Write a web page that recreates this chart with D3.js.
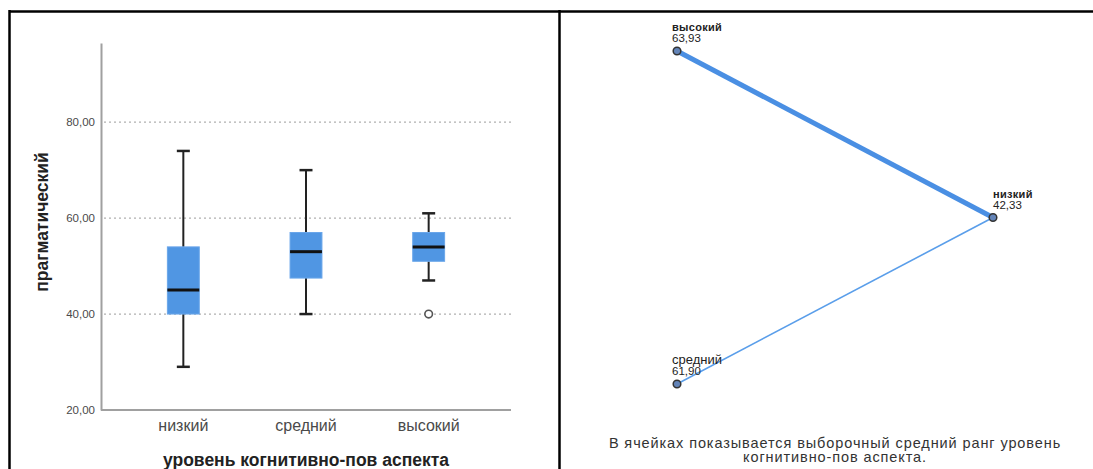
<!DOCTYPE html>
<html><head><meta charset="utf-8">
<script src="https://cdn.jsdelivr.net/npm/d3@7"></script>
<style>body{margin:0;background:#fff}svg{display:block}text{font-family:"Liberation Sans",Arial,sans-serif}</style>
</head><body>
<svg id="c" width="1093" height="469"></svg>
<script>
// Left panel: box plot data
const categories = ["низкий", "средний", "высокий"];
const whiskerLow = [29, 40, 47];
const q1 = [40, 47.5, 51];
const median = [45, 53, 54];
const q3 = [54, 57, 57];
const whiskerHigh = [74, 70, 61];
const outliers = [[], [], [40]];
const yTicks = [20, 40, 60, 80];
const yTitle = "прагматический";
const xTitle = "уровень когнитивно-пов аспекта";

// Right panel: mean ranks, node layout (unit positions)
const nodeNames = ["высокий", "низкий", "средний"];
const meanRanks = ["63,93", "42,33", "61,90"];
const nodeLayoutX = [0, 1, 0];
const nodeLayoutY = [0, 0.5, 1];
const edges = [[0, 1, "thick"], [2, 1, "thin"]];
const footnote = ["В ячейках показывается выборочный средний ранг уровень", "когнитивно-пов аспекта."];

const svg = d3.select("#c");
const blue = "#5096e3";

// Frame
svg.append("line").attr("x1", 9).attr("x2", 1093).attr("y1", 11.5).attr("y2", 11.5).attr("stroke", "#000").attr("stroke-width", 2.5);
svg.append("line").attr("x1", 9.5).attr("x2", 9.5).attr("y1", 10).attr("y2", 469).attr("stroke", "#000").attr("stroke-width", 2.5);
svg.append("line").attr("x1", 559.5).attr("x2", 559.5).attr("y1", 10).attr("y2", 469).attr("stroke", "#000").attr("stroke-width", 2.5);

// ---- Left: box plot
const y = d3.scaleLinear().domain([20, 96.5]).range([410, 43]);
const x = d3.scaleBand().domain(categories).range([122, 490]).paddingInner(0.74).paddingOuter(0.37);
const L = svg.append("g");

// gridlines
L.append("g").selectAll("line").data(yTicks.filter(t => t > 20)).join("line")
  .attr("x1", 104).attr("x2", 511).attr("y1", d => y(d)).attr("y2", d => y(d))
  .attr("stroke", "#b0b0b0").attr("stroke-width", 1.3).attr("stroke-dasharray", "2,3");

const yAxis = d3.axisLeft(y).tickValues(yTicks).tickSize(0).tickPadding(6)
  .tickFormat(d => d3.format(".2f")(d).replace(".", ","));
const ga = L.append("g").attr("transform", "translate(101,0)").call(yAxis);
ga.select(".domain").attr("stroke", "#a0a0a0").attr("stroke-width", 2);
ga.selectAll("text").attr("font-size", 11.5).attr("fill", "#4a4a4a");

// x axis line
L.append("line").attr("x1", 101).attr("x2", 511).attr("y1", y(20)).attr("y2", y(20)).attr("stroke", "#a0a0a0").attr("stroke-width", 2);

const xAxis = d3.axisBottom(x).tickSize(0).tickPadding(10);
const gx = L.append("g").attr("transform", `translate(0,${y(20)})`).call(xAxis);
gx.select(".domain").remove();
gx.selectAll("text").attr("font-size", 16).attr("fill", "#4a4a4a");

const boxes = L.append("g").selectAll("g").data(categories).join("g");
const cx = d => x(d) + x.bandwidth() / 2;
boxes.append("line").attr("x1", cx).attr("x2", cx)
  .attr("y1", (d, i) => y(whiskerHigh[i])).attr("y2", (d, i) => y(q3[i])).attr("stroke", "#222").attr("stroke-width", 2);
boxes.append("line").attr("x1", cx).attr("x2", cx)
  .attr("y1", (d, i) => y(q1[i])).attr("y2", (d, i) => y(whiskerLow[i])).attr("stroke", "#222").attr("stroke-width", 2);
boxes.append("line").attr("x1", d => cx(d) - 6.5).attr("x2", d => cx(d) + 6.5)
  .attr("y1", (d, i) => y(whiskerHigh[i])).attr("y2", (d, i) => y(whiskerHigh[i])).attr("stroke", "#222").attr("stroke-width", 2.5);
boxes.append("line").attr("x1", d => cx(d) - 6.5).attr("x2", d => cx(d) + 6.5)
  .attr("y1", (d, i) => y(whiskerLow[i])).attr("y2", (d, i) => y(whiskerLow[i])).attr("stroke", "#222").attr("stroke-width", 2.5);
boxes.append("rect").attr("x", d => x(d)).attr("width", x.bandwidth())
  .attr("y", (d, i) => y(q3[i])).attr("height", (d, i) => y(q1[i]) - y(q3[i]))
  .attr("fill", blue).attr("stroke", "#6aa6ea").attr("stroke-width", 1);
boxes.append("line").attr("x1", d => x(d)).attr("x2", d => x(d) + x.bandwidth())
  .attr("y1", (d, i) => y(median[i])).attr("y2", (d, i) => y(median[i])).attr("stroke", "#111").attr("stroke-width", 3);
boxes.each(function (d, i) {
  d3.select(this).selectAll("circle").data(outliers[i]).join("circle")
    .attr("cx", cx(d)).attr("cy", v => y(v)).attr("r", 3.8)
    .attr("fill", "#fff").attr("stroke", "#555").attr("stroke-width", 1.6);
});

L.append("text").attr("transform", "translate(48,222) rotate(-90)").attr("text-anchor", "middle")
  .attr("font-size", 17.5).attr("font-weight", "bold").attr("fill", "#222").text(yTitle);
L.append("text").attr("x", 306).attr("y", 466).attr("text-anchor", "middle")
  .attr("font-size", 17.5).attr("font-weight", "bold").attr("fill", "#222").text(xTitle);

// ---- Right: pairwise diagram
const nx = d3.scaleLinear().domain([0, 1]).range([677, 993]);
const ny = d3.scaleLinear().domain([0, 1]).range([51, 384]);
const lx = i => nx(nodeLayoutX[i]) - (nodeLayoutX[i] === 1 ? 0 : 5);
const R = svg.append("g");
R.selectAll("line.edge").data(edges).join("line").attr("class", "edge")
  .attr("x1", e => nx(nodeLayoutX[e[0]])).attr("y1", e => ny(nodeLayoutY[e[0]]))
  .attr("x2", e => nx(nodeLayoutX[e[1]])).attr("y2", e => ny(nodeLayoutY[e[1]]))
  .attr("stroke", e => e[2] === "thick" ? "#4a8fe3" : "#5a9eea")
  .attr("stroke-width", e => e[2] === "thick" ? 5 : 1.6);
R.selectAll("circle").data(nodeNames).join("circle")
  .attr("cx", (d, i) => nx(nodeLayoutX[i])).attr("cy", (d, i) => ny(nodeLayoutY[i])).attr("r", 3.8)
  .attr("fill", "#6384b8").attr("stroke", "#333").attr("stroke-width", 1.5);
R.selectAll("text.nm").data(nodeNames).join("text").attr("class", "nm")
  .attr("x", (d, i) => lx(i)).attr("y", (d, i) => ny(nodeLayoutY[i]) - 20)
  .attr("font-size", (d, i) => i === 2 ? 13 : 11)
  .attr("font-weight", (d, i) => i === 2 ? "normal" : "bold")
  .attr("letter-spacing", (d, i) => i === 2 ? 0 : 0.3)
  .attr("fill", "#222").text(d => d);
R.selectAll("text.rk").data(meanRanks).join("text").attr("class", "rk")
  .attr("x", (d, i) => lx(i)).attr("y", (d, i) => ny(nodeLayoutY[i]) - 9)
  .attr("font-size", 11.5).attr("fill", "#222").text(d => d);
R.selectAll("text.fn").data(footnote).join("text").attr("class", "fn")
  .attr("x", 835).attr("y", (d, i) => 448 + i * 14).attr("text-anchor", "middle")
  .attr("font-size", 14.5).attr("letter-spacing", 0.9).attr("fill", "#333").text(d => d);
</script>
</body></html>
